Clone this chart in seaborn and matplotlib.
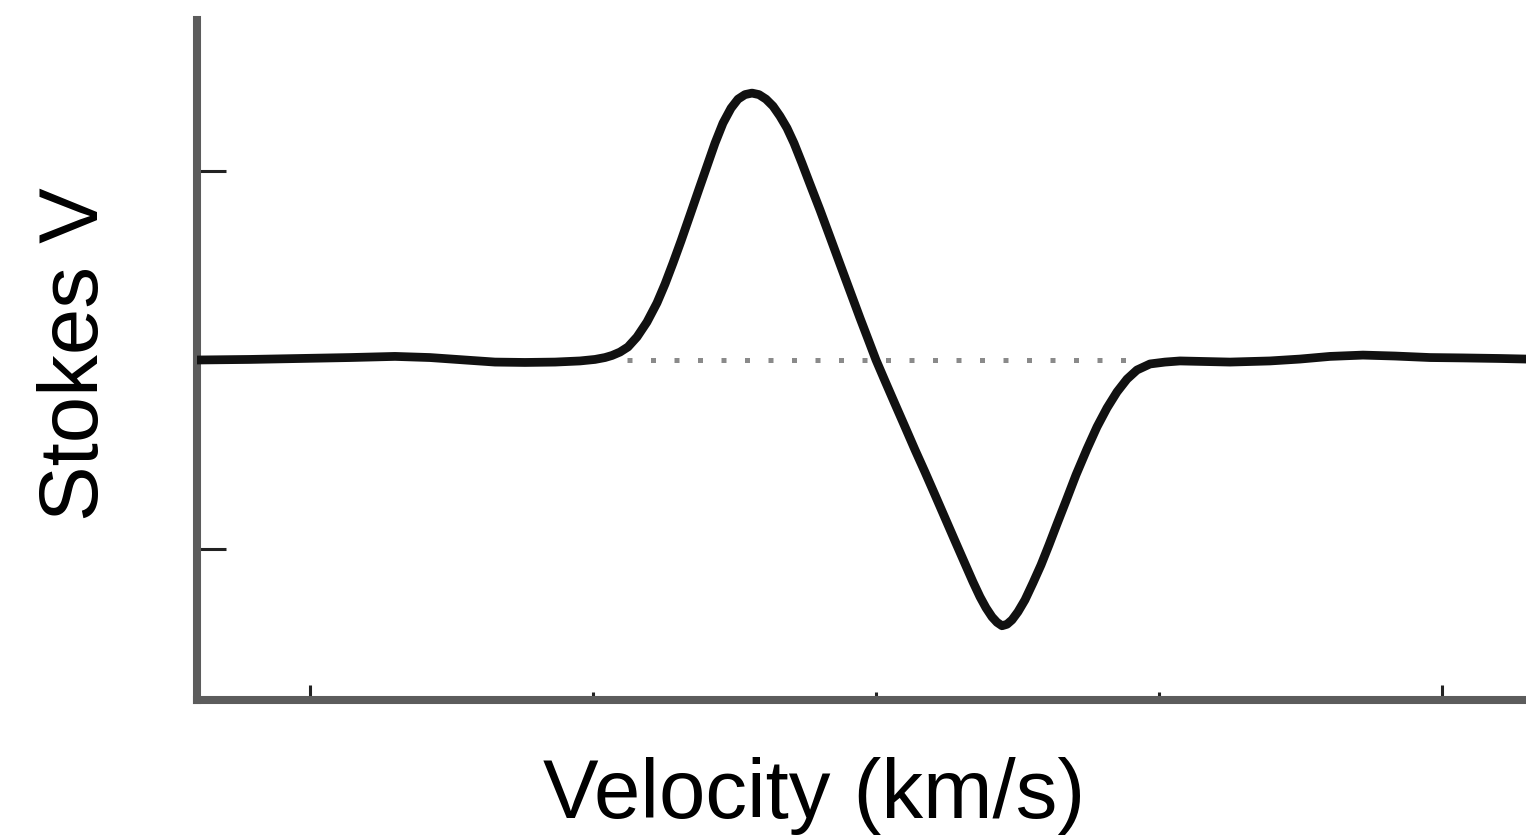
import matplotlib
matplotlib.use("Agg")
import matplotlib.pyplot as plt
import seaborn as sns
import pandas as pd
from matplotlib.ticker import FixedLocator, NullFormatter

# ---- data (velocity in km/s, Stokes V in arbitrary units) ----
velocity = [-120.07, -110.70, -101.86, -93.02, -85.06, -78.87, -72.68, -67.37, -62.07,
            -56.76, -52.34, -49.69, -47.92, -46.68, -45.27, -43.86, -42.26, -40.50,
            -38.73, -37.31, -35.90, -34.48, -32.89, -31.30, -29.89, -28.47, -27.06,
            -25.64, -24.40, -23.17, -21.93, -20.69, -19.45, -18.21, -16.98, -15.74,
            -14.50, -13.09, -11.67, -9.90, -8.13, -6.37, -4.60, -2.83, -1.41, 0.0,
            1.59, 3.36, 5.13, 6.90, 8.66, 10.43, 12.20, 13.97, 15.74, 17.15, 18.39,
            19.45, 20.51, 21.40, 22.28, 23.17, 24.05, 25.11, 26.35, 27.76, 29.18,
            30.59, 32.01, 33.60, 35.37, 37.31, 39.08, 40.85, 42.62, 44.39, 46.15,
            48.45, 51.10, 53.76, 62.60, 69.67, 74.98, 80.28, 86.12, 91.78, 97.97,
            103.80, 110.34, 114.94]
stokes_v = [0.0, 0.003, 0.008, 0.013, 0.019, 0.013, 0.0, -0.011, -0.013,
            -0.011, -0.005, 0.003, 0.013, 0.024, 0.042, 0.069, 0.122, 0.201,
            0.302, 0.402, 0.513, 0.630, 0.767, 0.905, 1.026, 1.148, 1.254,
            1.333, 1.381, 1.405, 1.413, 1.405, 1.381, 1.344, 1.291, 1.228,
            1.148, 1.042, 0.931, 0.794, 0.651, 0.508, 0.365, 0.222, 0.111, 0.0,
            -0.111, -0.233, -0.354, -0.476, -0.593, -0.714, -0.836, -0.958, -1.079, -1.175, -1.254,
            -1.312, -1.360, -1.389, -1.407, -1.399, -1.376, -1.333, -1.270, -1.180, -1.085,
            -0.979, -0.868, -0.746, -0.608, -0.471, -0.354, -0.254, -0.169, -0.101, -0.053,
            -0.021, -0.011, -0.005, -0.011, -0.005, 0.005, 0.019, 0.026, 0.021, 0.013,
            0.011, 0.008, 0.005]
zero_line_x = [-44.0, 44.6]
zero_line_y = [0.0, 0.0]
x_major_ticks = [-100, 100]
x_minor_ticks = [-50, 0, 50]
y_ticks = [-1, 1]
x_label = "Velocity (km/s)"
y_label = "Stokes V"

df = pd.DataFrame({"velocity": velocity, "stokes_v": stokes_v})
zdf = pd.DataFrame({"velocity": zero_line_x, "stokes_v": zero_line_y})

sns.set_theme(style="white")
plt.rcParams["font.family"] = ["Liberation Sans", "DejaVu Sans"]

fig = plt.figure(figsize=(15.26, 8.36), dpi=100)
ax = fig.add_axes([197 / 1526, 136 / 836, 1329 / 1526, 680 / 836])

sns.lineplot(data=zdf, x="velocity", y="stokes_v", ax=ax, color="#8a8a8a",
             linewidth=3.6, linestyle=(0, (1, 3.7)), dash_capstyle="butt", zorder=1)
sns.lineplot(data=df, x="velocity", y="stokes_v", ax=ax, color="#111111",
             linewidth=6.3, solid_capstyle="round", solid_joinstyle="round",
             sort=False, zorder=3)

ax.set_xlim(-120.07, 114.94)
ax.set_ylim(-1.8, 1.8)

sns.despine(ax=ax, top=True, right=True)
for side in ("left", "bottom"):
    ax.spines[side].set_color("#5c5c5c")
    ax.spines[side].set_linewidth(5.8)
    ax.spines[side].set_capstyle("projecting")

ax.xaxis.set_major_locator(FixedLocator(x_major_ticks))
ax.xaxis.set_minor_locator(FixedLocator(x_minor_ticks))
ax.yaxis.set_major_locator(FixedLocator(y_ticks))
ax.xaxis.set_major_formatter(NullFormatter())
ax.yaxis.set_major_formatter(NullFormatter())
ax.tick_params(axis="x", which="major", direction="in", length=10.8, width=2.2,
               color="#222222", bottom=True)
ax.tick_params(axis="x", which="minor", direction="in", length=5.8, width=2.2,
               color="#222222", bottom=True)
ax.tick_params(axis="y", which="major", direction="in", length=20.9, width=2.2,
               color="#222222", left=True)

ax.set_xlabel(x_label, fontsize=60, va="baseline", ha="center", color="black")
ax.xaxis.set_label_coords((814 - 197) / 1329, (700 - 818) / 680)
ax.set_ylabel(y_label, fontsize=60, va="baseline", ha="center", color="black")
ax.yaxis.set_label_coords((98 - 197) / 1329, (700 - 354.5) / 680)

fig.savefig("out.png", dpi=100)
